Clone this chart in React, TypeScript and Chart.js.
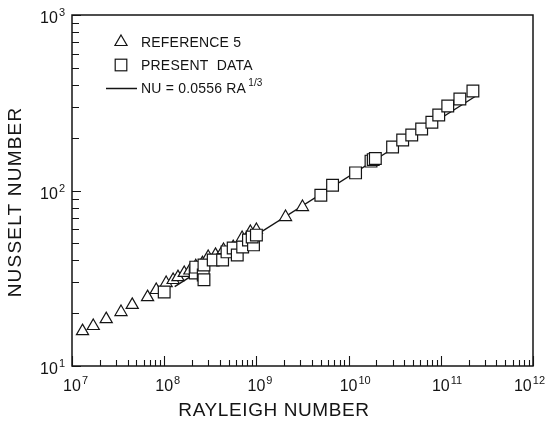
import React, { useEffect, useRef } from 'react';
import { Chart, registerables } from 'chart.js';

Chart.register(...registerables);

// Reference 5 (triangles)
const refRa = [1.3e7, 1.7e7, 2.35e7, 3.4e7, 4.5e7, 6.6e7, 8.2e7, 1.05e8, 1.25e8, 1.41e8, 1.65e8, 1.9e8, 2.2e8, 2.6e8, 3.0e8, 3.6e8, 4.4e8, 5.6e8, 7.0e8, 8.6e8, 1.0e9, 2.07e9, 3.16e9];
const refNu = [15.8, 16.9, 18.5, 20.3, 22.3, 24.7, 27.1, 29.7, 30.9, 32.1, 33.9, 35.0, 37.0, 38.5, 41.8, 43.0, 45.8, 47.6, 53.6, 58.0, 59.6, 70.6, 80.5];

// Present data (squares)
const presRa = [1.0e8, 2.17e8, 2.2e8, 2.65e8, 2.7e8, 2.7e8, 3.4e8, 4.3e8, 4.8e8, 5.6e8, 6.2e8, 7.1e8, 8.2e8, 9.3e8, 9.0e8, 1.0e9, 5.0e9, 6.7e9, 1.19e10, 1.75e10, 1.85e10, 1.95e10, 3.0e10, 3.86e10, 4.84e10, 6.2e10, 8.0e10, 9.5e10, 1.19e11, 1.61e11, 2.23e11];
const presNu = [26.4, 33.9, 36.6, 33.0, 37.6, 31.0, 40.2, 40.2, 44.7, 47.0, 42.9, 47.6, 52.2, 49.0, 54.3, 55.7, 94.0, 107, 126, 147, 150, 152, 177, 194, 207, 224, 245, 269, 303, 332, 369];

// Correlation line NU = 0.0556 RA^(1/3), end points as drawn
const fitRa = [1.3e8, 2.5e11];
const fitNu = [28.3, 350];

// Axis decades (exponents)
const xExps = [7, 8, 9, 10, 11, 12];
const yExps = [1, 2, 3];

const xTitle = 'RAYLEIGH NUMBER';
const yTitle = 'NUSSELT NUMBER';
const legendRef = 'REFERENCE 5';
const legendPres = 'PRESENT  DATA';
const legendFit = 'NU = 0.0556 RA';
const legendFitExp = '1/3';

const FONT = '"Liberation Sans", Arial, sans-serif';
const INK = '#141414';

function pts(xs: number[], ys: number[]) {
  return xs.map((x, i) => ({ x, y: ys[i] }));
}

const decorPlugin = {
  id: 'decor',
  afterDraw(chart: any) {
    const ctx: CanvasRenderingContext2D = chart.ctx;
    const { left, right, top, bottom } = chart.chartArea;
    const xs = chart.scales.x;
    const ys = chart.scales.y;
    ctx.save();
    ctx.strokeStyle = INK;
    ctx.fillStyle = INK;
    // frame
    ctx.lineWidth = 1.5;
    ctx.strokeRect(left, top, right - left, bottom - top);
    // ticks (inward)
    ctx.lineWidth = 1.1;
    ctx.beginPath();
    for (let i = 0; i < xExps.length; i++) {
      const e = xExps[i];
      const maxM = i === xExps.length - 1 ? 1 : 9;
      for (let m = 1; m <= maxM; m++) {
        const px = Math.round(xs.getPixelForValue(m * Math.pow(10, e))) + 0.5;
        const len = m === 1 ? 10 : 6;
        ctx.moveTo(px, bottom);
        ctx.lineTo(px, bottom - len);
      }
    }
    for (let i = 0; i < yExps.length; i++) {
      const e = yExps[i];
      const maxM = i === yExps.length - 1 ? 1 : 9;
      for (let m = 1; m <= maxM; m++) {
        const py = Math.round(ys.getPixelForValue(m * Math.pow(10, e))) + 0.5;
        const len = m === 1 ? 9 : 7;
        ctx.moveTo(left, py);
        ctx.lineTo(left + len, py);
      }
    }
    ctx.stroke();

    // tick labels
    const bigF = `16px ${FONT}`;
    const supF = `11px ${FONT}`;
    ctx.textBaseline = 'alphabetic';
    ctx.textAlign = 'left';
    for (const e of xExps) {
      const px = xs.getPixelForValue(Math.pow(10, e));
      ctx.font = bigF;
      const w10 = ctx.measureText('10').width;
      ctx.font = supF;
      const wE = ctx.measureText(String(e)).width;
      let x0 = px - w10 / 2;
      const maxRight = 545;
      if (x0 + w10 + 1 + wE > maxRight) x0 = maxRight - (w10 + 1 + wE);
      ctx.font = bigF;
      ctx.fillText('10', x0, bottom + 25);
      ctx.font = supF;
      ctx.fillText(String(e), x0 + w10 + 1, bottom + 18);
    }
    for (const e of yExps) {
      const py = ys.getPixelForValue(Math.pow(10, e));
      ctx.font = supF;
      const wE = ctx.measureText(String(e)).width;
      ctx.font = bigF;
      const w10 = ctx.measureText('10').width;
      const rightEdge = left - 7;
      const x0 = rightEdge - wE - 1 - w10;
      ctx.fillText('10', x0, py + 8);
      ctx.font = supF;
      ctx.fillText(String(e), x0 + w10 + 1, py + 1);
    }

    // axis titles
    ctx.font = `19px ${FONT}`;
    (ctx as any).letterSpacing = '0.6px';
    ctx.textAlign = 'center';
    ctx.fillText(xTitle, 274, 416);
    ctx.save();
    ctx.translate(21, 202);
    ctx.rotate(-Math.PI / 2);
    (ctx as any).letterSpacing = '1.2px';
    ctx.fillText(yTitle, 0, 0);
    ctx.restore();
    (ctx as any).letterSpacing = '0px';

    // legend
    ctx.textAlign = 'left';
    ctx.lineWidth = 1.2;
    const lx = 121;
    const r = 7;
    const ty = 42;
    ctx.beginPath();
    for (let k = 0; k < 3; k++) {
      const a = (k * 2 * Math.PI) / 3;
      const px = lx + Math.sin(a) * r;
      const py = ty - Math.cos(a) * r;
      if (k === 0) ctx.moveTo(px, py); else ctx.lineTo(px, py);
    }
    ctx.closePath();
    ctx.stroke();
    const s = 5.8;
    ctx.strokeRect(lx - s, 65 - s, 2 * s, 2 * s);
    ctx.lineWidth = 1.5;
    ctx.beginPath();
    ctx.moveTo(106, 88.5);
    ctx.lineTo(137, 88.5);
    ctx.stroke();
    ctx.font = `14px ${FONT}`;
    (ctx as any).letterSpacing = '0.2px';
    ctx.fillText(legendRef, 141, 47);
    ctx.fillText(legendPres, 141, 70);
    ctx.fillText(legendFit, 141, 93);
    const wf = ctx.measureText(legendFit).width;
    ctx.font = `10px ${FONT}`;
    ctx.fillText(legendFitExp, 141 + wf + 2, 86);
    ctx.restore();
  },
};

export default function App() {
  const canvasRef = useRef<HTMLCanvasElement | null>(null);
  useEffect(() => {
    document.body.style.margin = '0';
    document.body.style.overflow = 'hidden';
    const canvas = canvasRef.current;
    if (!canvas) return;
    const chart = new Chart(canvas, {
      type: 'scatter',
      data: {
        datasets: [
          {
            label: legendPres,
            data: pts(presRa, presNu),
            pointStyle: 'rect',
            pointRadius: 8.3,
            backgroundColor: '#ffffff',
            borderColor: INK,
            borderWidth: 1.2,
            order: 0,
          },
          {
            label: legendRef,
            data: pts(refRa, refNu),
            pointStyle: 'triangle',
            pointRadius: 7,
            backgroundColor: '#ffffff',
            borderColor: INK,
            borderWidth: 1.2,
            order: 1,
          },
          {
            label: legendFit,
            data: pts(fitRa, fitNu),
            showLine: true,
            pointRadius: 0,
            borderColor: INK,
            borderWidth: 1.4,
            order: 2,
          },
        ],
      },
      options: {
        animation: false,
        responsive: false,
        devicePixelRatio: 1,
        events: [],
        layout: { padding: { left: 72, right: 17, top: 15, bottom: 55 } },
        plugins: { legend: { display: false }, tooltip: { enabled: false }, title: { display: false } },
        scales: {
          x: { type: 'logarithmic', min: 1e7, max: 1e12, display: false },
          y: { type: 'logarithmic', min: 10, max: 1000, display: false },
        },
      },
      plugins: [decorPlugin],
    } as any);
    return () => chart.destroy();
  }, []);
  return (
    <div style={{ position: 'fixed', left: 0, top: 0, width: 550, height: 421, background: '#fff' }}>
      <canvas ref={canvasRef} width={550} height={421} style={{ display: 'block', width: 550, height: 421 }} />
    </div>
  );
}
